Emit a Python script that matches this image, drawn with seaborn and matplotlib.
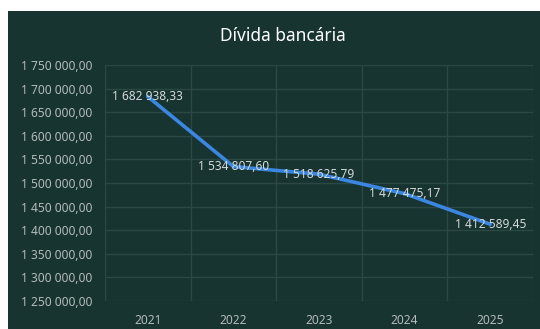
import matplotlib
matplotlib.use("Agg")
import matplotlib.pyplot as plt
from matplotlib.patches import Rectangle
from matplotlib.ticker import FixedLocator, FuncFormatter
import seaborn as sns
import pandas as pd

years = ["2021", "2022", "2023", "2024", "2025"]
divida = [1682938.33, 1534807.60, 1518625.79, 1477475.17, 1412589.45]
y_ticks = [1250000, 1300000, 1350000, 1400000, 1450000, 1500000,
           1550000, 1600000, 1650000, 1700000, 1750000]

BG = "#173431"
GRID = "#2b4845"
TXT = "#b4bbba"


def pt_br(v):
    inteiro, dec = f"{v:,.2f}".split(".")
    return inteiro.replace(",", " ") + "," + dec


sns.set_theme(style="dark")
plt.rcParams["font.family"] = ["Noto Sans", "DejaVu Sans"]

fig = plt.figure(figsize=(5.40, 3.29), dpi=100, facecolor="white")
fig.patches.append(Rectangle((8 / 540, 0), 1, 1 - 11 / 329, transform=fig.transFigure,
                             facecolor=BG, edgecolor="none", zorder=-5))

ax = fig.add_axes([105 / 540, 28 / 329, 428 / 540, 236 / 329])
ax.set_facecolor(BG)

df = pd.DataFrame({"ano": years, "valor": divida})
sns.lineplot(data=df, x="ano", y="valor", ax=ax, color="#3a86e0", linewidth=2.6,
             sort=False, zorder=3)

ax.set_xlim(-0.5, len(years) - 0.5)
ax.set_ylim(y_ticks[0], y_ticks[-1])
ax.yaxis.set_major_locator(FixedLocator(y_ticks))
ax.yaxis.set_major_formatter(FuncFormatter(lambda v, p: pt_br(v)))
ax.xaxis.set_minor_locator(FixedLocator([i - 0.5 for i in range(len(years) + 1)]))

ax.grid(True, which="major", axis="y", color=GRID, linewidth=1.0)
ax.grid(True, which="minor", axis="x", color=GRID, linewidth=1.0)
ax.grid(False, which="major", axis="x")
for s in ax.spines.values():
    s.set_visible(False)

ax.tick_params(axis="both", which="both", length=0, colors=TXT, labelsize=8.6)
ax.tick_params(axis="y", pad=9)
ax.tick_params(axis="x", pad=9)
ax.set_xlabel("")
ax.set_ylabel("")

for i, v in enumerate(divida):
    ax.text(i, v, pt_br(v), ha="center", va="center", fontsize=8.6,
            color="#d4d9d8", zorder=4)

fig.text(283 / 540, 1 - 36 / 329, "Dívida bancária", ha="center", va="center",
         fontsize=12.5, color="white")

fig.savefig("out.png", dpi=100, facecolor="white")
